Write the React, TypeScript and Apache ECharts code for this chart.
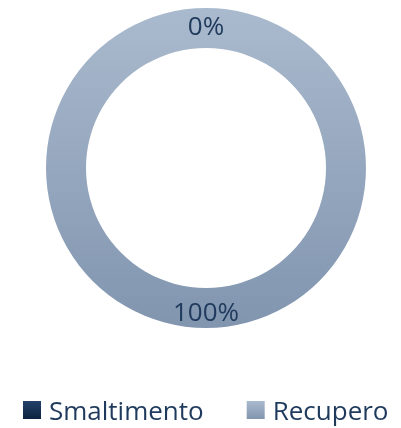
import React, { useEffect, useRef } from "react";
import * as echarts from "echarts";

const categories = ["Smaltimento", "Recupero"];
const values = [0, 100];
const labels = ["0%", "100%"];

export default function App() {
  const ref = useRef<HTMLDivElement>(null);
  useEffect(() => {
    const chart = echarts.init(ref.current!, null, { renderer: "svg" });
    const grad = (a: string, b: string) =>
      new echarts.graphic.LinearGradient(0, 0, 0, 1, [
        { offset: 0, color: a },
        { offset: 1, color: b },
      ]);
    const colors = [grad("#22416A", "#0C2440"), grad("#AABACE", "#8195AF")];
    chart.setOption({
      animation: false,
      legend: {
        data: categories,
        top: 397,
        left: 23,
        padding: 0,
        icon: "rect",
        itemWidth: 18,
        itemHeight: 18,
        itemGap: 43,
        textStyle: {
          fontFamily: "Open Sans",
          fontSize: 26,
          lineHeight: 26,
          color: "#1F3A5C",
          padding: [0, 0, 0, 3],
        },
      },
      series: [
        {
          type: "pie",
          center: [206, 168],
          radius: [120, 160],
          startAngle: 90,
          clockwise: true,
          stillShowZeroSum: true,
          avoidLabelOverlap: false,
          label: {
            show: true,
            position: "inside",
            fontFamily: "Open Sans",
            fontSize: 26,
            color: "#1F3A5C",
            formatter: (p: any) => labels[p.dataIndex],
          },
          labelLine: { show: false },
          emphasis: { disabled: true },
          data: categories.map((c, i) => ({
            name: c,
            value: values[i],
            itemStyle: { color: colors[i] },
          })),
        },
      ],
    });
    return () => chart.dispose();
  }, []);
  return (
    <div
      ref={ref}
      style={{ position: "fixed", left: 0, top: 0, width: 401, height: 428 }}
    />
  );
}
